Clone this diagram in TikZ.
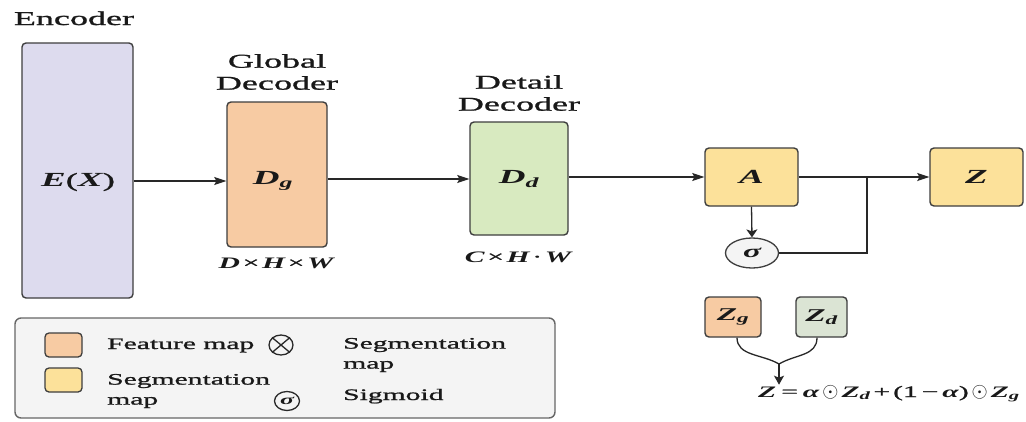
\documentclass[tikz,border=0pt]{standalone}
\usepackage{fontspec}
\setmainfont{Liberation Serif}[FakeStretch=1.85, UprightFeatures={FakeBold=1.2}]
\usetikzlibrary{arrows.meta,shapes.geometric,calc}

\definecolor{encc}{RGB}{221,219,238}
\definecolor{orangec}{RGB}{247,203,163}
\definecolor{yellowc}{RGB}{252,225,154}
\definecolor{greenc}{RGB}{216,234,192}
\definecolor{zdc}{RGB}{219,228,212}
\definecolor{legendc}{RGB}{244,244,244}
\definecolor{bordc}{RGB}{62,62,62}
\definecolor{linec}{RGB}{40,40,40}
\definecolor{textc}{RGB}{25,25,25}

% bold italic variable
\newcommand{\vb}[1]{{\bfseries\itshape #1}}
% Hadamard product sign, a little larger than the text
\newcommand{\hprod}{{\fontsize{20}{20}\selectfont$\odot$}}

\tikzset{
  box/.style={draw=bordc, line width=1.4pt, rounded corners=4pt, inner sep=0pt},
  lbl/.style={font=\fontsize{19.5}{22}\selectfont, inner sep=0pt, text=textc, align=center},
  lgd/.style={font=\fontsize{16}{20}\selectfont, inner sep=0pt, text=textc, align=left},
  sym/.style={font=\fontsize{20}{24}\selectfont, inner sep=0pt, text=textc},
  dimtxt/.style={font=\fontsize{16}{20}\selectfont, inner sep=0pt, text=textc},
  wire/.style={line width=1.3pt, draw=linec},
  arr/.style={wire, -{Stealth[length=12pt,width=8pt,inset=2pt]}},
  varr/.style={wire, -{Stealth[length=8pt,width=11pt,inset=2pt]}},
}

\begin{document}
\begin{tikzpicture}[x=1pt, y=-1pt]
\useasboundingbox (0,0) rectangle (1026,421);
\fill[white] (0,0) rectangle (1026,421);

% --- main pipeline boxes ---
\node[box, fill=encc, minimum width=111pt, minimum height=255pt] (enc) at (77.5,170.5) {};
\node[box, fill=orangec, minimum width=100pt, minimum height=145pt] (gd) at (277,174.5) {};
\node[box, fill=greenc, minimum width=98pt, minimum height=113pt] (dd) at (519,178.5) {};
\node[box, fill=yellowc, minimum width=93pt, minimum height=58pt] (A) at (751.5,177) {};
\node[box, fill=yellowc, minimum width=93pt, minimum height=58pt] (Z) at (976.5,177) {};

% labels inside the boxes
\node[sym] (enct) at (78,182) {\vb{E}(\vb{X})};
\node[sym] (gdt) at (273,181) {\vb{D}\textsubscript{\vb{g}}};
\node[sym] (ddt) at (519,179) {\vb{D}\textsubscript{\vb{d}}};
\node[sym] (At) at (751.5,177) {\vb{A}};
\node[sym] (Zt) at (976.5,177) {\vb{Z}};

% titles above the boxes
\node[lbl, anchor=base] (enctitle) at (74,25) {Encoder};
\node[lbl] (gdtitle) at (277,72) {Global\\Decoder};
\node[lbl] (ddtitle) at (519,93) {Detail\\Decoder};

% tensor shapes below the decoders
\node[dimtxt, anchor=base] (gddim) at (276,268) {\vb{D}\,×\,\vb{H}\,×\,\vb{W}};
\node[dimtxt, anchor=base] (dddim) at (518,262) {\vb{C}\,×\,\vb{H}\,·\,\vb{W}};

% sigmoid gate
\node[draw=bordc, fill=legendc, line width=1.3pt, ellipse, minimum width=53pt, minimum height=30pt, inner sep=0pt] (sig) at (752,253) {};
\node[sym, font=\fontsize{18}{20}\selectfont] (sigt) at (752,253) {\vb{σ}};
\coordinate (jn) at (867,177);

% connectors
\coordinate (r1) at (0,181);
\coordinate (r2) at (0,179);
\draw[arr] (enc.east |- r1) -- (gd.west |- r1);
\draw[arr] (gd.east |- r2) -- (dd.west |- r2);
\draw[arr] (dd.east |- A.west) -- (A.west);
\draw[arr] (A.east) -- (Z.west);
\draw[varr] (A.south) -- (sig.north);
\draw[wire] (sig.east) -| (jn);

% fusion of the two decoder outputs
\node[box, fill=orangec, minimum width=56pt, minimum height=40pt] (zg) at (733,317) {};
\node[box, fill=zdc, minimum width=51pt, minimum height=40pt] (zd) at (821.5,317) {};
\node[sym, font=\fontsize{18}{20}\selectfont] (zgt) at (733,317) {\vb{Z}\textsubscript{\vb{g}}};
\node[sym, font=\fontsize{18}{20}\selectfont] (zdt) at (821.5,317) {\vb{Z}\textsubscript{\vb{d}}};
\coordinate (mg) at (779,364);
\node[dimtxt, font=\fontsize{16}{20}\selectfont, anchor=base] (fm) at (889,397)
  {\vb{Z}\kern5pt=\kern5pt\vb{α}\kern3pt\hprod\kern3pt\vb{Z}\textsubscript{\vb{d}}\kern3pt+\kern3pt(1\kern4pt−\kern4pt\vb{α})\kern3pt\hprod\kern3pt\vb{Z}\textsubscript{\vb{g}}};
\draw[wire] (zg.south -| 737,0) .. controls (737,356) and (762,354) .. (mg);
\draw[wire] (zd.south -| 817,0) .. controls (817,356) and (796,354) .. (mg);
\draw[varr, -{Stealth[length=9pt,width=10pt,inset=2pt]}] (mg) -- (mg |- fm.north);

% --- legend ---
\node[draw=gray!80!black, fill=legendc, line width=1.4pt, rounded corners=6pt, minimum width=540pt, minimum height=100pt] (legend) at (285,368) {};
\node[box, fill=orangec, minimum width=37pt, minimum height=24pt, line width=1.3pt] (lf) at (63.5,345) {};
\node[box, fill=yellowc, minimum width=37pt, minimum height=24pt, line width=1.3pt] (ly) at (63.5,380) {};
\node[lgd, anchor=base west] (lft) at (107,349) {Feature map};
\node[lgd, anchor=west] (lyt) at (107,391) {Segmentation\\map};
\node[draw=linec, line width=1.3pt, ellipse, minimum width=24pt, minimum height=20pt, inner sep=0pt] (lo) at (281,345) {};
\draw[wire] (lo.north west) -- (lo.south east);
\draw[wire] (lo.north east) -- (lo.south west);
\node[lgd, anchor=west] (lot) at (343,355) {Segmentation\\map};
\node[draw=linec, line width=1.3pt, ellipse, minimum width=25pt, minimum height=19pt, inner sep=0pt] (ls) at (287,401) {};
\node[sym, font=\fontsize{14}{16}\selectfont] (lst) at (287,401) {\vb{σ}};
\node[lgd, anchor=base west] (lstt) at (343,400) {Sigmoid};
\end{tikzpicture}
\end{document}
